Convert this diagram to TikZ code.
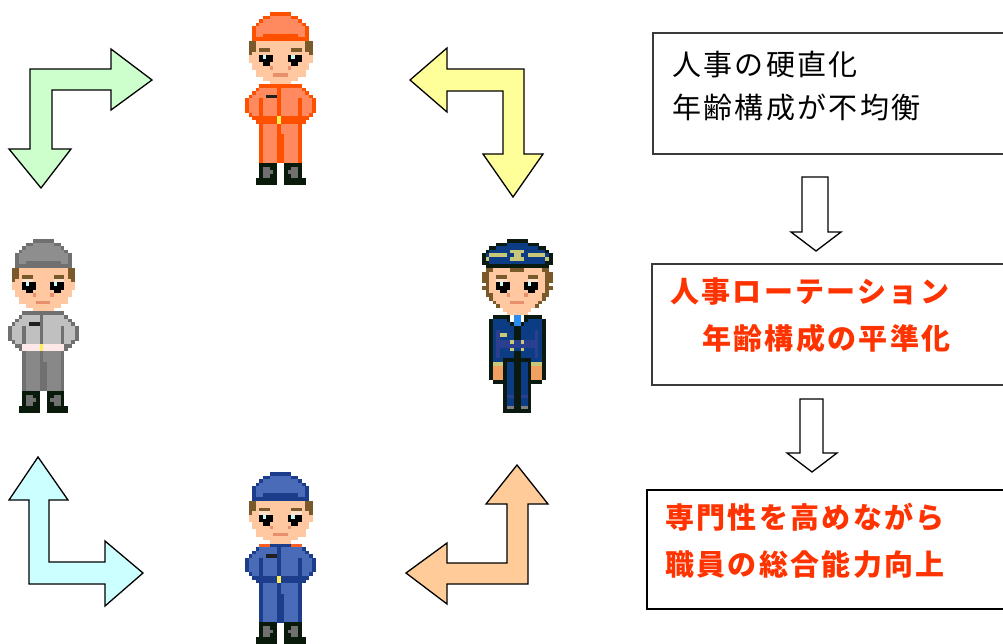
\documentclass[tikz,border=0pt]{standalone}
\usepackage{fontspec}
\newfontfamily\jpfont{Noto Sans CJK JP}[LetterSpace=8]
\definecolor{boxline}{HTML}{3A3A3A}
\definecolor{redtext}{HTML}{FF3300}
\definecolor{fillgreen}{HTML}{CCFFCC}
\definecolor{fillyellow}{HTML}{FFFF99}
\definecolor{fillcyan}{HTML}{CCFFFF}
\definecolor{fillpeach}{HTML}{FFCC99}

% colours shared by every figure
\newcommand\commonpal[1]{%
  \definecolor{#1h}{HTML}{7A5A2A}%
  \definecolor{#1s}{HTML}{FFC8A0}%
  \definecolor{#1e}{HTML}{FFC8A0}%
  \definecolor{#1k}{HTML}{000000}%
  \definecolor{#1w}{HTML}{C8F8F8}%
  \definecolor{#1m}{HTML}{E8906C}%
  \definecolor{#1b}{HTML}{0A1A0A}%
  \definecolor{#1g}{HTML}{707070}%
  \definecolor{#1p}{HTML}{202020}%
  \definecolor{#1y}{HTML}{FFEE55}%
}
% orange worker
\commonpal{palor}
\definecolor{paloro}{HTML}{FF5000}
\definecolor{palora}{HTML}{FF8A60}
\definecolor{palorc}{HTML}{FF8A60}
\definecolor{palorq}{HTML}{FF8A60}
\definecolor{palort}{HTML}{FF5000}
\definecolor{palorn}{HTML}{FF5000}
% grey worker
\commonpal{palgr}
\definecolor{palgro}{HTML}{707070}
\definecolor{palgra}{HTML}{8E8E8E}
\definecolor{palgrc}{HTML}{C0C0C0}
\definecolor{palgrq}{HTML}{888888}
\definecolor{palgrt}{HTML}{FFE8E8}
\definecolor{palgrn}{HTML}{707070}
\definecolor{palgre}{HTML}{FFE0CC}
% blue worker
\commonpal{palbl}
\definecolor{palblo}{HTML}{1C3C8C}
\definecolor{palbla}{HTML}{4A6CB8}
\definecolor{palblc}{HTML}{4A6CB8}
\definecolor{palblq}{HTML}{4A6CB8}
\definecolor{palblt}{HTML}{1C3C8C}
\definecolor{palbln}{HTML}{FF6020}
\definecolor{palble}{HTML}{FFE0CC}
% officer
\commonpal{palof}
\definecolor{palofo}{HTML}{0A1A10}
\definecolor{palofc}{HTML}{0C3C84}
\definecolor{palofd}{HTML}{2A3F8F}
\definecolor{palofy}{HTML}{C8C878}
\definecolor{palofe}{HTML}{FFE0CC}
\definecolor{palofx}{HTML}{FFFFFF}
\definecolor{palofu}{HTML}{2A8CF0}
\definecolor{palofa}{HTML}{F0A060}
\definecolor{palofg}{HTML}{808080}

% one square of a pixel figure
\newcommand\pixcell[3]{\fill[fill=#1] (#2,#3) rectangle ++(1.05,1.05);}

\ExplSyntaxOn
\int_new:N \l_pix_row_int
\int_new:N \l_pix_col_int
\clist_new:N \l_pix_rows_clist
\cs_new_protected:Npn \pix_row:nn #1#2
  {
    \int_zero:N \l_pix_col_int
    \tl_map_inline:nn {#2}
      {
        \str_if_eq:nnF {##1} {.}
          {
            \use:x
              {
                \exp_not:N \pixcell {#1##1}
                  { \int_use:N \l_pix_col_int }
                  { \int_use:N \l_pix_row_int }
              }
          }
        \int_incr:N \l_pix_col_int
      }
  }
\NewDocumentCommand \pixart { m m }
  {
    \int_zero:N \l_pix_row_int
    \clist_set:No \l_pix_rows_clist {#2}
    \clist_map_inline:Nn \l_pix_rows_clist
      {
        \pix_row:nn {#1} {##1}
        \int_incr:N \l_pix_row_int
      }
  }
\ExplSyntaxOff

% worker in overalls, hands on hips (20 x 48)
\newcommand\workerrows{
..... .. ooooo o ..... ..,
..... oo aaaaa a oo .....,
.... o aaaaa aaaaa o ....,
... o aaaaa aaaaa aa o ...,
.. o aaaaa aaaaa aaaa o ..,
.. o aaaaa aaaaa aaaa o ..,
.. o aa ooooo ooooo aa o ..,
.. ooooo ooooo ooooo o ..,
. hh sssss sssss ssss hh .,
. hh sssss sssss ssss hh .,
. hh s hhh sssss s hhh s hh .,
. h ss eee sssss s eee ss h .,
. sss kwkk ssss kwkk sss .,
. sss kkkk ssss kkkk sss .,
.. ss skks ssss skks ss ..,
.. sssss m ssss m sssss ..,
... sssss sssss ssss ...,
... sssss mmmm sssss ...,
..... sssss sssss .....,
..... .. sssss s ..... ..,
.... nnn ooooo o nnn ....,
... o ccccc o ccccc c o ...,
.. o ccccc c o ccccc cc o ..,
. o cccc ppp o ccccc ccc o .,
o ccc o cccc o ccccc o ccc o,
o ccc o cccc o ccccc o ccc o,
o ccc o cccc o ccccc o ccc o,
o ccc o cccc o ccccc o ccc o,
. o cc o cccc o ccccc o cc o .,
.. oo ttttt y ttttt t oo ..,
... o ttttt y ttttt t o ...,
.... o qqqq o qqqqq o ....,
.... o qqqq o qqqqq o ....,
.... o qqqq o qqqqq o ....,
.... o qqqq oo qqqq o ....,
.... o qqqq oo qqqq o ....,
.... o qqqq oo qqqq o ....,
.... o qqqq oo qqqq o ....,
.... o qqqq oo qqqq o ....,
.... o qqqq oo qqqq o ....,
.... o qqqq oo qqqq o ....,
.... o qqqq oo qqqq o ....,
.... bbbbb .. bbbbb ....,
.... b gg bb .. bb gg b ....,
.... b ggg b .. b ggg b ....,
.... b gg bb .. bb gg b ....,
... bbbbb b .. bbbbb b ...,
... bbbbb b .. bbbbb b ...
}

% officer in peaked cap (20 x 48)
\newcommand\officerrows{
..... .. ooooo o ..... ..,
.... ooo ccccc c ooo ....,
.. oo ccccc ccccc cc oo ..,
. o ccccc c yyyy ccccc c o .,
o c yyyyy cc yy cc yyyyy c o,
o y ccccc c yyyy ccccc c y o,
oo ccccc ccccc ccccc c oo,
. ooooo ooooo ooooo ooo .,
. hh sssss hhhh sssss hh .,
hh sssss sssss sssss s hh,
hh s s hhh sssss s hhh s s hh,
hh ss eee sssss s eee ss hh,
. h ss kwkk ssss kwkk ss h .,
hh ss kkkk ssss kkkk ss hh,
. h ss skks ssss skks ss h .,
. hh s sss m ssss m sss s hh .,
.. h sssss sssss ssss h ..,
... h ssss mmmm ssss h ...,
.... h sssss sssss h ....,
..... . sssss sss ..... .,
..... .. sssss s ..... ..,
... ooooo xuux ooooo ...,
.. o cccc o x uu x o cccc o ..,
.. o ccccc o uu o ccccc o ..,
.. o ccccc c oo ccccc c o ..,
.. o c d cccc oo cccc d c o ..,
.. o c d yy cc oo cccc d c o ..,
.. o c d cccc oo cccc d c o ..,
.. o c dddd y dd y dddd c o ..,
.. o c ddddd ddddd dd c o ..,
.. o c d ccc y cc y ccc d c o ..,
.. o c d cccc oo cccc d c o ..,
.. o c d cccc oo cccc d c o ..,
.. o ccc ooooo ooo ccc o ..,
.. o yyy o cc oo cc o yyy o ..,
.. o aaa o cc oo cc o aaa o ..,
.. o aaa o cc oo cc o aaa o ..,
.. o aaa o cc oo cc o aaa o ..,
.. o aaa o cc oo cc o aaa o ..,
... oooo cc oo cc oooo ...,
..... . o cc oo cc o ..... .,
..... . o cc oo cc o ..... .,
..... . o cc oo cc o ..... .,
..... . o dd oo dd o ..... .,
..... . o cc oo cc o ..... .,
..... . o cc oo cc o ..... .,
..... . o gg oo gg o ..... .,
..... . ooooo ooo ..... .
}

\begin{document}
\begin{tikzpicture}[x=1pt,y=-1pt,
  bentarrow/.style={draw=black,line width=1.3pt,line join=miter},
  downarrow/.style={draw=black,line width=1.3pt,line join=miter,fill=white},
  infobox/.style={draw=boxline,line width=1.4pt,inner sep=0pt,outer sep=0pt,fill=white},
  linetext/.style={anchor=west,inner sep=0pt,text=black,
    font=\jpfont\fontsize{29}{29}\selectfont},
  redline/.style={anchor=west,inner sep=0pt,text=redtext,
    font=\jpfont\bfseries\fontsize{29}{29}\selectfont}]
\clip (0,0) rectangle (1003,643);
\fill[white] (0,0) rectangle (1003,643);

% figures (rows run downwards)
\begin{scope}[shift={(245,12)},x=3.55pt,y=-3.6pt]
  \pixart{palor}{\workerrows}
\end{scope}
\begin{scope}[shift={(8,239)},x=3.52pt,y=-3.62pt]
  \pixart{palgr}{\workerrows}
\end{scope}
\begin{scope}[shift={(482,239)},x=3.52pt,y=-3.62pt]
  \pixart{palof}{\officerrows}
\end{scope}
\begin{scope}[shift={(245,472)},x=3.55pt,y=-3.58pt]
  \pixart{palbl}{\workerrows}
\end{scope}

% bent arrows of the rotation cycle
\draw[bentarrow,fill=fillgreen] (30,69) -- (111,69) -- (111,49) -- (152,80)
  -- (111,110) -- (111,90) -- (52,90) -- (52,149) -- (71,149) -- (41,188)
  -- (9,149) -- (30,149) -- cycle;
\draw[bentarrow,fill=fillyellow] (524,69) -- (447,69) -- (447,48) -- (410,80)
  -- (447,112) -- (447,91) -- (503,91) -- (503,154) -- (483,154) -- (513,197)
  -- (543,154) -- (524,154) -- cycle;
\draw[bentarrow,fill=fillcyan] (29,584) -- (29,500) -- (9,500) -- (38,457)
  -- (68,500) -- (49,500) -- (49,562) -- (105,562) -- (105,541) -- (143,573)
  -- (105,606) -- (105,584) -- cycle;
\draw[bentarrow,fill=fillpeach] (528,584) -- (528,504) -- (548,504) -- (517,465)
  -- (486,504) -- (507,504) -- (507,563) -- (447,563) -- (447,543) -- (406,573)
  -- (447,604) -- (447,584) -- cycle;

% boxes
\node[infobox,minimum width=360pt,minimum height=121pt] (box1) at (833,93.5) {};
\node[infobox,minimum width=360pt,minimum height=121pt] (box2) at (832,324.5) {};
\node[infobox,draw=black,line width=2.2pt,minimum width=366pt,minimum height=119pt] (box3) at (830,549.5) {};

\node[linetext] (note1a) at (672,64) {人事の硬直化};
\node[linetext] (note1b) at (672,107) {年齢構成が不均衡};
\node[redline] (note2a) at (670,292) {人事ローテーション};
\node[redline] (note2b) at (702,338) {年齢構成の平準化};
\node[redline] (note3a) at (665,517) {専門性を高めながら};
\node[redline] (note3b) at (665,564) {職員の総合能力向上};

% block arrows between the boxes
\draw[downarrow] (802,177) -- (828,177) -- (828,232) -- (841,232) -- (816,251)
  -- (791,232) -- (802,232) -- cycle;
\draw[downarrow] (800,399) -- (823,399) -- (823,453) -- (837,453) -- (812,472)
  -- (787,453) -- (800,453) -- cycle;
\end{tikzpicture}
\end{document}
